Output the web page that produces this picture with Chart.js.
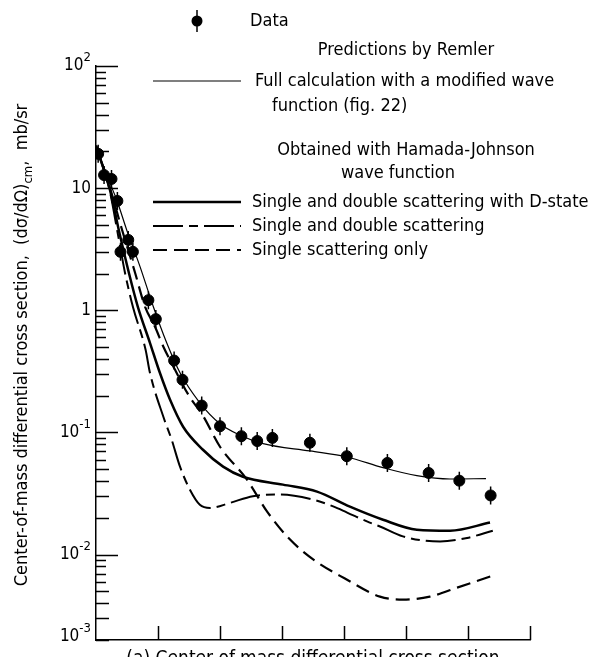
<!DOCTYPE html>
<html>
<head>
<meta charset="utf-8">
<script src="https://cdn.jsdelivr.net/npm/chart.js@4.4.1/dist/chart.umd.min.js"></script>
<style>
  body { margin: 0; background: #fff; }
</style>
</head>
<body>
<canvas id="myChart" width="605" height="657"></canvas>
<script>
// c.m. angle (deg) and (dsigma/dOmega)cm in mb/sr
const dataAngle = [0.7, 2.6, 5.0, 6.9, 7.9, 10.4, 11.9, 16.9, 19.3, 25.2, 27.9, 34.1, 40.0, 46.9, 52.0, 56.9, 69.0, 80.9, 94.0, 107.3, 117.2, 127.3];
const dataValue = [19.1, 12.8, 11.9, 7.86, 3.01, 3.77, 3.01, 1.21, 0.847, 0.388, 0.270, 0.166, 0.1125, 0.0932, 0.0851, 0.0903, 0.0824, 0.0639, 0.0563, 0.0466, 0.0403, 0.0305];

// Full calculation with a modified wave function
const fullAngle = [0, 4.5, 6.7, 9.9, 14.2, 18.5, 22.8, 27.1, 33.5, 40, 46.5, 53.9, 69, 81, 92.6, 103.5, 114.2, 125.8];
const fullValue = [22.2, 11.0, 8.0, 4.55, 2.28, 1.07, 0.542, 0.308, 0.175, 0.118, 0.095, 0.081, 0.0706, 0.063, 0.0515, 0.0443, 0.0416, 0.0419];

// Single and double scattering with D-state
const dstateAngle = [0, 4.5, 7.7, 10.6, 13.5, 17.4, 20.6, 23.9, 28.1, 34.5, 41, 47.4, 60.3, 71.3, 81.9, 92.6, 103.5, 114.2, 127.1];
const dstateValue = [22.2, 9.68, 4.15, 2.03, 1.068, 0.542, 0.308, 0.185, 0.1114, 0.0722, 0.0525, 0.0434, 0.0374, 0.0328, 0.0247, 0.0193, 0.0160, 0.0157, 0.0183];

// Single and double scattering
const doubleAngle = [0, 4.5, 7.1, 9.35, 11.9, 16.0, 17.4, 21.7, 24.4, 27.1, 30.3, 33.5, 36.8, 43.2, 50.6, 59.4, 70, 76.5, 81, 87.4, 91.6, 99, 111, 119.7, 128];
const doubleValue = [22.2, 9.32, 4.15, 2.03, 1.068, 0.475, 0.308, 0.135, 0.0873, 0.0525, 0.034, 0.0256, 0.0241, 0.0265, 0.0301, 0.031, 0.0282, 0.0248, 0.0221, 0.0187, 0.017, 0.0141, 0.0128, 0.0137, 0.0157];

// Single scattering only
const singleAngle = [0, 4.5, 8.4, 12.6, 15.8, 19.0, 21.7, 25.5, 29.8, 34.5, 40, 48.7, 55.2, 62.6, 70.6, 80.3, 91.6, 99, 107.7, 116.5, 127.4];
const singleValue = [22.2, 10.05, 4.56, 2.03, 1.074, 0.737, 0.506, 0.326, 0.2035, 0.137, 0.0764, 0.0411, 0.0225, 0.01327, 0.00893, 0.00637, 0.00453, 0.00428, 0.00453, 0.00537, 0.00665];

const xTicks = [0, 20, 40, 60, 80, 100, 120, 140];
// the bottom of the printed axis carries the 10^-3 label
const yTickValues = [100, 10, 1, 0.1, 0.01, 0.002];
const yTickBase = ['10', '10', '1', '10', '10', '10'];
const yTickExp = ['2', '', '', '-1', '-2', '-3'];

const FONT = '"DejaVu Sans Condensed", "DejaVu Sans", sans-serif';
Chart.defaults.font.family = FONT;
Chart.defaults.font.size = 18;
Chart.defaults.color = '#000';

function pts(xs, ys) {
    return xs.map((x, i) => ({ x: x, y: ys[i] }));
}

function curve(label, xs, ys, width, dash) {
    return {
        label: label,
        data: pts(xs, ys),
        borderColor: '#000',
        borderWidth: width,
        borderDash: dash,
        pointRadius: 0,
        showLine: true,
        fill: false,
        cubicInterpolationMode: 'monotone'
    };
}

// small vertical bars through the data points
const errorBars = {
    id: 'errorBars',
    afterDatasetsDraw(chart) {
        const ctx = chart.ctx;
        const meta = chart.getDatasetMeta(0);
        ctx.save();
        ctx.strokeStyle = '#000';
        ctx.lineWidth = 1.5;
        ctx.beginPath();
        meta.data.forEach(p => {
            ctx.moveTo(p.x, p.y - 9);
            ctx.lineTo(p.x, p.y + 9);
        });
        ctx.stroke();
        ctx.restore();
    }
};

// tick marks pointing into the plot, and the power-of-ten labels
const axisMarks = {
    id: 'axisMarks',
    afterDraw(chart) {
        const ctx = chart.ctx;
        const x = chart.scales.x, y = chart.scales.y;
        ctx.save();
        ctx.strokeStyle = '#000';
        ctx.lineWidth = 1.5;
        ctx.beginPath();
        for (let e = -3; e <= 2; e++) {
            for (let m = 1; m <= 9; m++) {
                const v = m * Math.pow(10, e);
                if (v < y.min * 0.999 || v > y.max * 1.001) continue;
                const py = Math.round(y.getPixelForValue(v)) + 0.5;
                const len = m === 1 ? 22 : (m <= 5 ? 13 : 10);
                ctx.moveTo(x.left, py);
                ctx.lineTo(x.left + len, py);
            }
        }
        xTicks.forEach(t => {
            if (t === 0) return;
            const px = Math.round(x.getPixelForValue(t)) + 0.5;
            ctx.moveTo(px, y.bottom);
            ctx.lineTo(px, y.bottom - 14);
        });
        ctx.stroke();

        ctx.fillStyle = '#000';
        ctx.textBaseline = 'middle';
        ctx.textAlign = 'left';
        yTickValues.forEach((v, i) => {
            const py = y.getPixelForValue(v) + (i === yTickValues.length - 1 ? -3 : 0);
            ctx.font = '17px ' + FONT;
            const wb = ctx.measureText(yTickBase[i]).width;
            ctx.font = '13px ' + FONT;
            const we = ctx.measureText(yTickExp[i]).width;
            const right = 91;
            ctx.font = '17px ' + FONT;
            ctx.fillText(yTickBase[i], right - we - wb, py);
            ctx.font = '13px ' + FONT;
            ctx.fillText(yTickExp[i], right - we, py - 8);
        });
        ctx.restore();
    }
};

// rotated y title with the "cm" subscript
const yTitle = {
    id: 'yTitle',
    afterDraw(chart) {
        const ctx = chart.ctx;
        const main = 'Center-of-mass differential cross section,  (dσ/dΩ)';
        const tail = ',  mb/sr';
        ctx.save();
        ctx.translate(22, 345);
        ctx.rotate(-Math.PI / 2);
        ctx.fillStyle = '#000';
        ctx.textBaseline = 'middle';
        ctx.font = '18px ' + FONT;
        const w1 = ctx.measureText(main).width;
        const w3 = ctx.measureText(tail).width;
        ctx.font = '13px ' + FONT;
        const w2 = ctx.measureText('cm').width;
        let pos = -(w1 + w2 + w3) / 2;
        ctx.font = '18px ' + FONT;
        ctx.fillText(main, pos, 0);
        pos += w1;
        ctx.font = '13px ' + FONT;
        ctx.fillText('cm', pos, 7);
        pos += w2;
        ctx.font = '18px ' + FONT;
        ctx.fillText(tail, pos, 0);
        ctx.restore();
    }
};

// legend block at the top
const keyBlock = {
    id: 'keyBlock',
    afterDraw(chart) {
        const ctx = chart.ctx;
        const ds = chart.data.datasets;
        ctx.save();
        ctx.fillStyle = '#000';
        ctx.strokeStyle = '#000';
        ctx.textBaseline = 'middle';
        ctx.font = '18px ' + FONT;

        // data marker
        ctx.beginPath();
        ctx.arc(197, 21, 5.5, 0, Math.PI * 2);
        ctx.fill();
        ctx.lineWidth = 1.5;
        ctx.beginPath();
        ctx.moveTo(197, 10);
        ctx.lineTo(197, 32);
        ctx.stroke();
        ctx.textAlign = 'left';
        ctx.fillText('Data', 250, 21);

        ctx.textAlign = 'center';
        ctx.fillText('Predictions by Remler', 406, 50);
        ctx.fillText('Obtained with Hamada-Johnson', 406, 150);
        ctx.fillText('wave function', 398, 173);

        ctx.textAlign = 'left';
        ctx.fillText('Full calculation with a modified wave', 255, 81);
        ctx.fillText('function (fig. 22)', 272, 106);

        const rows = [
            [1, 81, ''],
            [2, 202, 'Single and double scattering with D-state'],
            [3, 226, 'Single and double scattering'],
            [4, 250, 'Single scattering only']
        ];
        rows.forEach(r => {
            const d = ds[r[0]];
            ctx.lineWidth = d.borderWidth;
            ctx.setLineDash(d.borderDash || []);
            ctx.beginPath();
            ctx.moveTo(153, r[1]);
            ctx.lineTo(241, r[1]);
            ctx.stroke();
            ctx.setLineDash([]);
            if (r[2]) ctx.fillText(r[2], 252, r[1]);
        });
        ctx.restore();
    }
};

const config = {
    type: 'scatter',
    data: {
        datasets: [
            {
                label: 'Data',
                data: pts(dataAngle, dataValue),
                backgroundColor: '#000',
                borderColor: '#000',
                pointRadius: 5.5,
                pointHoverRadius: 5.5,
                showLine: false
            },
            curve('Full calculation with a modified wave function (fig. 22)', fullAngle, fullValue, 1.2, []),
            curve('Single and double scattering with D-state', dstateAngle, dstateValue, 2.5, []),
            curve('Single and double scattering', doubleAngle, doubleValue, 2, [30, 6, 9, 6]),
            curve('Single scattering only', singleAngle, singleValue, 2.2, [14, 7])
        ]
    },
    options: {
        responsive: false,
        animation: false,
        layout: {
            padding: { top: 66, right: 75, bottom: 0, left: 0 }
        },
        plugins: {
            legend: { display: false },
            tooltip: { enabled: false }
        },
        scales: {
            x: {
                type: 'linear',
                min: 0,
                max: 140,
                grid: { display: false },
                border: { display: true, color: '#000', width: 1.5 },
                ticks: { display: false },
                title: {
                    display: true,
                    text: '(a) Center-of-mass differential cross section',
                    font: { size: 19 },
                    padding: { top: 0, bottom: -13 }
                },
                afterFit: function (scale) {
                    scale.height = 17;
                }
            },
            y: {
                type: 'logarithmic',
                min: 0.002,
                max: 100,
                grid: { display: false, drawTicks: false },
                border: { display: true, color: '#000', width: 1.5 },
                ticks: { display: false },
                afterFit: function (scale) {
                    scale.width = 96;
                }
            }
        }
    },
    plugins: [errorBars, axisMarks, yTitle, keyBlock]
};

window.myChart = new Chart(document.getElementById('myChart'), config);
</script>
</body>
</html>
